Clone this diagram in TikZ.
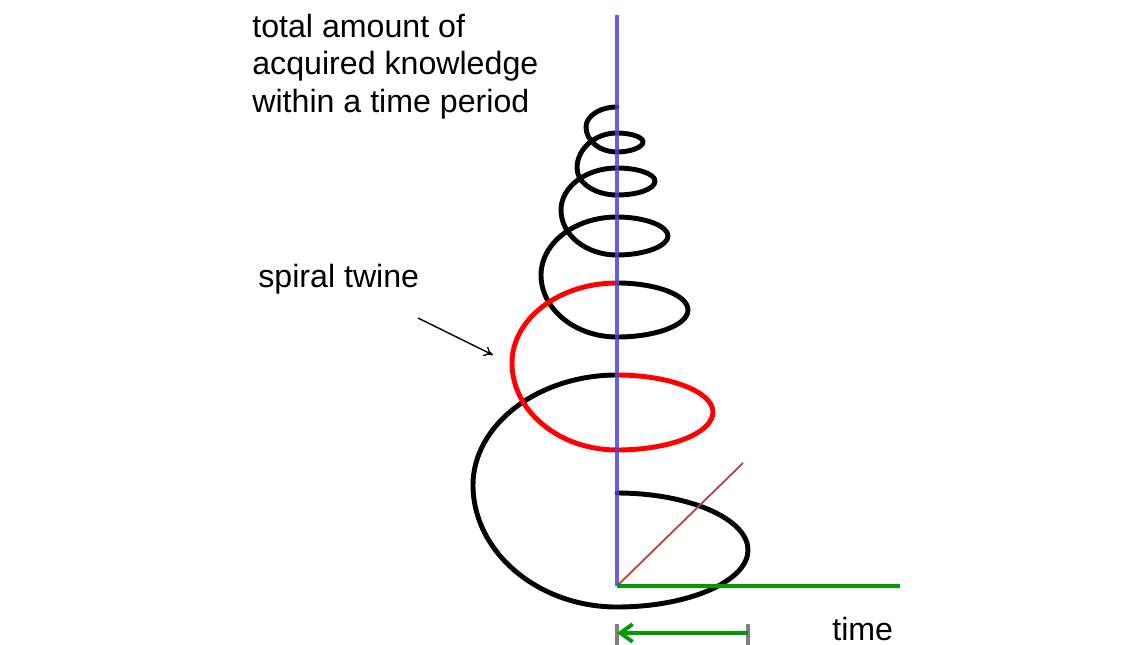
\documentclass[tikz,border=0pt]{standalone}
\usepackage{fontspec}
\setmainfont{Liberation Sans}
\usetikzlibrary{arrows.meta, positioning, calc}
\definecolor{axisblue}{RGB}{70,70,210}
\definecolor{timegreen}{RGB}{0,155,0}
\definecolor{diagred}{RGB}{190,60,60}

\begin{document}
\begin{tikzpicture}[x=0.02cm, y=0.02cm,
  twine/.style={line width=2.8pt, line cap=round, line join=round},
  note/.style={inner sep=0pt, font=\fontsize{18.3}{21.2}\selectfont, align=left},
  bar/.style={line width=2pt, gray}]
  \useasboundingbox (0,0) rectangle (1145,-645);
  % points of the axes
  \coordinate (origin) at (617,-586);
  \coordinate (ytop) at (617,-15);
  \coordinate (tend) at (900,-586);
  \coordinate (diag) at (743,-463);
  % spiral, black part
  \draw[twine] (617,-107) .. controls (600,-107) and (586,-116) .. (586,-127)
    .. controls (586,-141) and (600,-152) .. (617,-152)
    .. controls (631,-152) and (643,-147) .. (643,-142)
    .. controls (643,-137) and (631,-133) .. (617,-133)
    .. controls (595,-133) and (577,-149) .. (577,-168)
    .. controls (577,-183) and (595,-195) .. (617,-195)
    .. controls (638,-195) and (655,-189) .. (655,-181)
    .. controls (655,-174) and (638,-168) .. (617,-168)
    .. controls (586,-168) and (561,-187) .. (561,-210)
    .. controls (561,-235) and (586,-255) .. (617,-255)
    .. controls (645,-255) and (668,-246) .. (668,-236)
    .. controls (668,-226) and (645,-217) .. (617,-217)
    .. controls (575,-217) and (541,-243) .. (541,-275)
    .. controls (541,-309) and (575,-337) .. (617,-337)
    .. controls (656,-337) and (688,-325) .. (688,-310)
    .. controls (688,-295) and (656,-283) .. (617,-283);
  \draw[twine] (617,-375) .. controls (538,-375) and (473,-425) .. (473,-485)
    .. controls (473,-552) and (538,-607) .. (617,-607)
    .. controls (689,-607) and (748,-581) .. (748,-550)
    .. controls (748,-519) and (689,-493) .. (617,-493);
  % spiral, red turn
  \draw[twine, red] (617,-283) .. controls (559,-283) and (512,-319) .. (512,-363)
    .. controls (512,-411) and (559,-450) .. (617,-450)
    .. controls (670,-450) and (713,-433) .. (713,-412)
    .. controls (713,-392) and (670,-375) .. (617,-375);
  % axes
  \draw[line width=1pt, diagred] (origin) -- (diag);
  \draw[line width=2.3pt, timegreen] (origin) -- (tend);
  \draw[line width=2pt, axisblue, opacity=0.85] (origin) -- (ytop);
  % texts
  \node[note, anchor=north west] (amount) at (252,-14) {total amount of\\acquired knowledge\\within a time period};
  \node[note, anchor=base west] (twinelabel) at (258,-287) {spiral twine};
  \node[note, anchor=base west] (time) at (832,-640) {time};
  \coordinate (twinefoot) at (418,-318);
  \coordinate (twinetip) at (493,-355);
  \draw[line width=0.8pt, -{To[length=5pt,width=6pt]}] (twinefoot) -- (twinetip);
  % time period marker
  \coordinate (barL) at (617,-633);
  \coordinate (barR) at (748,-633);
  \draw[bar] ($(barL)+(0,9)$) -- ($(barL)+(0,-12)$);
  \draw[bar] ($(barR)+(0,9)$) -- ($(barR)+(0,-12)$);
  \draw[line width=2.2pt, timegreen, -{Straight Barb[length=7pt,width=10pt]}] (barR) -- (barL);
\end{tikzpicture}
\end{document}
